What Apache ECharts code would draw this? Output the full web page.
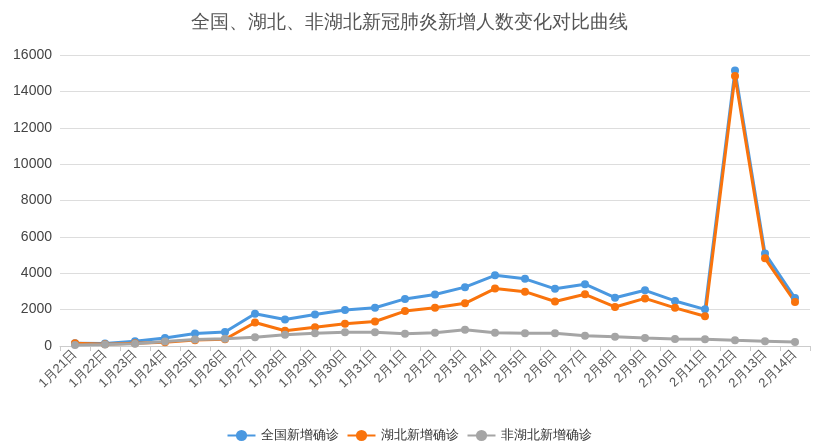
<!DOCTYPE html><html><head><meta charset="utf-8"><script src="https://cdn.jsdelivr.net/npm/echarts@6/dist/echarts.min.js"></script></head><body style="margin:0"><div id="c" style="width:818px;height:445px"></div><script>
const categories=['1月21日','1月22日','1月23日','1月24日','1月25日','1月26日','1月27日','1月28日','1月29日','1月30日','1月31日','2月1日','2月2日','2月3日','2月4日','2月5日','2月6日','2月7日','2月8日','2月9日','2月10日','2月11日','2月12日','2月13日','2月14日'];
const national=[149,131,259,444,688,769,1771,1459,1737,1981,2102,2590,2829,3235,3887,3694,3143,3399,2656,3062,2478,2015,15152,5090,2641];
const hubei=[150,100,150,200,323,371,1291,840,1032,1220,1347,1921,2103,2345,3156,2987,2447,2841,2147,2618,2097,1638,14840,4823,2420];
const nonHubei=[60,80,120,250,360,400,480,619,705,761,755,669,726,890,731,707,696,558,509,444,381,377,312,267,221];
const mk=(n,d,c)=>({name:n,type:'line',data:d,symbol:'circle',symbolSize:8,itemStyle:{color:c},lineStyle:{width:3,color:c}});
echarts.init(document.getElementById('c')).setOption({
title:{text:'全国、湖北、非湖北新冠肺炎新增人数变化对比曲线',left:'center',top:8,textStyle:{fontSize:19,fontWeight:'normal',color:'#555'}},
legend:{top:424,itemWidth:28,textStyle:{fontSize:13,color:'#333'}},
grid:{left:60,right:8,top:55,bottom:99},
xAxis:{type:'category',data:categories,boundaryGap:true,axisLabel:{rotate:45,interval:0,fontSize:13,color:'#555',margin:6},axisTick:{show:true,length:5,lineStyle:{color:'#ccc'}},axisLine:{lineStyle:{color:'#ccc'}}},
yAxis:{type:'value',min:0,max:16000,interval:2000,axisLabel:{fontSize:14,color:'#444',formatter:v=>String(v)},splitLine:{lineStyle:{color:'#ddd'}}},
series:[mk('全国新增确诊',national,'#4a98e0'),mk('湖北新增确诊',hubei,'#f9730c'),mk('非湖北新增确诊',nonHubei,'#a5a5a5')]
});
</script></body></html>
